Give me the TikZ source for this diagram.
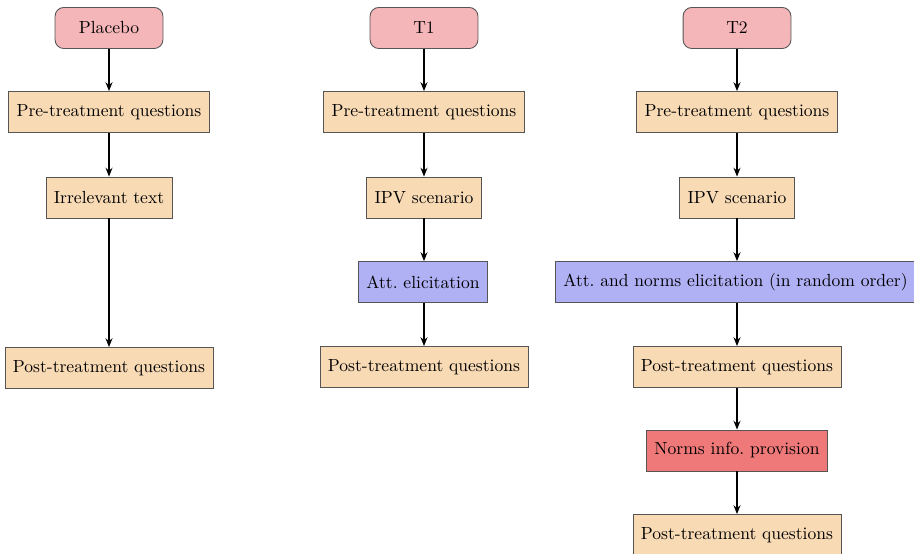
\documentclass[tikz,border=0pt]{standalone}
\usetikzlibrary{arrows.meta}
\definecolor{cpink}{HTML}{F4B6B9}
\definecolor{ctan}{HTML}{F8DAB5}
\definecolor{cblue}{HTML}{B0B0F5}
\definecolor{cred}{HTML}{EF7879}
\definecolor{cborder}{HTML}{555555}
\tikzset{
  base/.style={draw=cborder, line width=0.5pt, minimum height=23.4pt, inner xsep=4.5pt, font=\normalsize},
  startbox/.style={base, rounded corners=5pt, fill=cpink, minimum width=61.5pt},
  qbox/.style={base, fill=ctan},
  ebox/.style={base, fill=cblue},
  ibox/.style={base, fill=cred},
  arr/.style={-{Stealth[length=5pt,width=4pt]}, line width=0.7pt, black},
}
\begin{document}
\begin{tikzpicture}[x=0.57pt, y=-0.57pt]
\useasboundingbox (0,0) rectangle (914,554);
% column 1
\node[startbox] (plc) at (109,28) {Placebo};
\node[qbox] (pre1) at (109,112) {Pre-treatment questions};
\node[qbox] (irr) at (109,197.5) {Irrelevant text};
\node[qbox] (post1) at (109,368) {Post-treatment questions};
% column 2
\node[startbox] (t1) at (424,28) {T1};
\node[qbox] (pre2) at (424,112) {Pre-treatment questions};
\node[qbox] (ipv2) at (424,197.5) {IPV scenario};
\node[ebox] (att2) at (423,282) {Att.\ elicitation};
\node[qbox] (post2) at (424,367) {Post-treatment questions};
% column 3
\node[startbox] (t2) at (737,28) {T2};
\node[qbox] (pre3) at (737,112) {Pre-treatment questions};
\node[qbox] (ipv3) at (737,197.5) {IPV scenario};
\node[ebox] (att3) at (735.5,282) {Att.\ and norms elicitation (in random order)};
\node[qbox] (post3) at (737,367) {Post-treatment questions};
\node[ibox] (nrm) at (737,450.5) {Norms info.\ provision};
\node[qbox] (post4) at (737,535) {Post-treatment questions};
% arrows
\draw[arr] (plc) -- (pre1);
\draw[arr] (pre1) -- (irr);
\draw[arr] (irr) -- (post1);
\draw[arr] (t1) -- (pre2);
\draw[arr] (pre2) -- (ipv2);
\draw[arr] (ipv2) -- (ipv2 |- att2.north);
\draw[arr] (ipv2 |- att2.south) -- (post2);
\draw[arr] (t2) -- (pre3);
\draw[arr] (pre3) -- (ipv3);
\draw[arr] (ipv3) -- (ipv3 |- att3.north);
\draw[arr] (ipv3 |- att3.south) -- (post3);
\draw[arr] (post3) -- (nrm);
\draw[arr] (nrm) -- (post4);
\end{tikzpicture}
\end{document}
